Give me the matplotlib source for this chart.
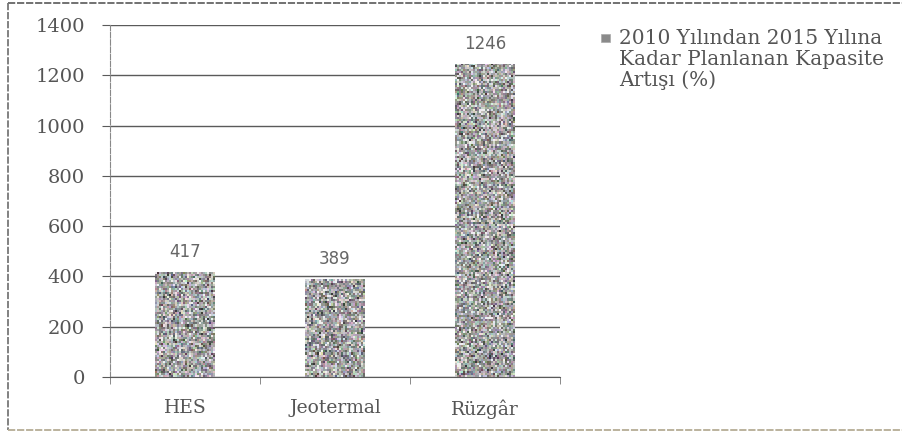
import numpy as np
import matplotlib
matplotlib.use("Agg")
import matplotlib.pyplot as plt
from matplotlib.patches import Rectangle
from matplotlib.lines import Line2D

categories = ["HES", "Jeotermal", "Rüzgâr"]
values = [417, 389, 1246]
yticks = [0, 200, 400, 600, 800, 1000, 1200, 1400]
legend_label = "2010 Yılından 2015 Yılına\nKadar Planlanan Kapasite\nArtışı (%)"

W, H = 903, 438
fig = plt.figure(figsize=(W / 100, H / 100), dpi=100)
fig.patch.set_facecolor("white")

ax = fig.add_axes([110 / W, 1 - 377 / H, 450 / W, 352 / H])
ax.set_xlim(-0.5, 2.5)
ax.set_ylim(0, 1400)

text_col = "#555555"
grid_col = "#5a5a5a"

x = np.arange(len(categories))
bars = ax.bar(x, values, width=0.4, color="#a0a0a0", zorder=2, linewidth=0)

# speckled grey texture inside bars (scan look), ~2px grain
rng = np.random.default_rng(3)
px_per_unit = 352 / 1400
for b in bars:
    rows = max(int(b.get_height() * px_per_unit / 2), 1)
    grey = rng.normal(162, 42, size=(rows, 30, 1))
    tint = rng.normal(0, 12, size=(rows, 30, 3))
    tex = np.clip(grey + tint, 55, 240) / 255.0
    im = ax.imshow(tex, extent=(b.get_x(), b.get_x() + b.get_width(), 0, b.get_height()),
                   aspect="auto", zorder=3, interpolation="nearest")
    im.set_clip_path(b)

ax.bar_label(bars, labels=[str(v) for v in values], padding=8, fontsize=12,
             color="#666666", family="DejaVu Sans")

ax.set_yticks(yticks)
ax.set_yticklabels([str(t) for t in yticks], family="DejaVu Serif", fontsize=14, color=text_col)
ax.set_xticks(x)
ax.set_xticklabels(categories, family="DejaVu Serif", fontsize=13.5, color=text_col)
ax.set_xticks([-0.5, 0.5, 1.5, 2.5], minor=True)
ax.tick_params(axis="x", which="major", length=0, pad=16)
ax.tick_params(axis="x", which="minor", length=5, color="#777777", direction="out")
ax.tick_params(axis="y", length=6, color=grid_col, pad=12)

ax.yaxis.grid(True, color=grid_col, linewidth=1.0, zorder=1)
ax.set_axisbelow(True)
for s in ["top", "right"]:
    ax.spines[s].set_visible(False)
ax.spines["left"].set_color("#888888")
ax.spines["left"].set_linestyle((0, (5, 1.5)))
ax.spines["bottom"].set_color(grid_col)

# outer chart border (top, left, bottom)
for (x0, y0, x1, y1, c) in [(8, 3, 903, 3, "#666666"), (8, 3, 8, 430, "#777777"),
                            (8, 430, 903, 430, "#b5ad95")]:
    fig.add_artist(Line2D([x0 / W, x1 / W], [1 - y0 / H, 1 - y1 / H],
                          transform=fig.transFigure, color=c, lw=1.3,
                          linestyle=(0, (4, 1))))

# legend (marker aligned with first line as in the original)
fig.add_artist(Rectangle((601 / W, 1 - 42 / H), 9 / W, 8 / H, transform=fig.transFigure,
                         facecolor="#8a8a8a", edgecolor="#aaaaaa", lw=0.5))
fig.text(619 / W, 1 - 29 / H, legend_label, family="DejaVu Serif", fontsize=14.5,
         color=text_col, va="top", ha="left", linespacing=1.12)

fig.savefig("out.png", dpi=100, facecolor="white")
